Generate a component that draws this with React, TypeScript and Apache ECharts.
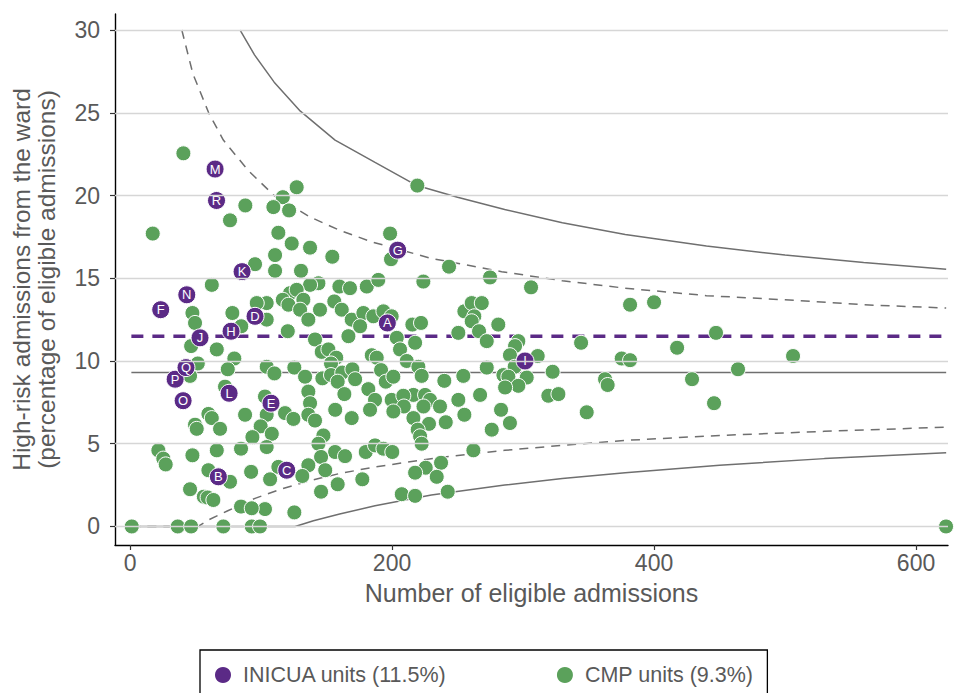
import React, { useEffect, useRef } from 'react';
import * as echarts from 'echarts';

// ---- Data ----
const inicuaUnits = ['A', 'B', 'C', 'D', 'E', 'F', 'G', 'H', 'I', 'J', 'K', 'L', 'M', 'N', 'O', 'P', 'Q', 'R'];
const inicuaN = [196.4, 67.4, 119.6, 95.4, 107.6, 23.4, 204.3, 77.1, 301.5, 53.4, 85.5, 75.6, 64.9, 43.3, 40.5, 34.4, 42.7, 66];
const inicuaPct = [12.3, 3.0, 3.4, 12.7, 7.45, 13.1, 16.7, 11.8, 10.0, 11.4, 15.4, 8.05, 21.6, 14.0, 7.6, 8.9, 9.6, 19.7];

const cmpN = [
  40.7, 88, 76.3, 17.3, 127.2, 116.6, 109.4, 121.4, 113.2, 123.4, 137.4, 154.4, 110.7, 95.4, 110.7, 130.5,
  219.3, 198.5, 199.2, 243.5, 274.8, 62.4, 47.6, 49.6, 78.1, 46.6, 66.2, 79.6, 51.7, 74.6, 45.8, 72.5, 84.9,
  143.8, 137.4, 159.8, 167.9, 180.7, 122.1, 127.2, 116.6, 120.9, 104.3, 96.7, 132.3, 129.8, 145, 155.9, 161.6,
  136.1, 169.2, 178.1, 175.6, 185.7, 104.3, 120.4, 141.2, 166.7, 146.3, 151.4, 157.4, 153.4, 184.5, 104.3,
  110.2, 125.4, 133.6, 146.8, 153.4, 162, 169.7, 158.5, 171.8, 136.1, 163.6, 181.9, 137.4, 103,
  189.5, 223.9, 193.4, 199.7, 215.5, 222.1, 255.2, 260.8, 268.5, 262.8, 260.8, 281.1, 250.6, 266.4, 272.3,
  203.6, 206.1, 217.6, 188.3, 211.2, 220.1, 191.6, 222.6, 195.2, 201, 239.9, 254.4, 272.3, 285, 267.2,
  250.6, 216.3, 199.7, 208.6, 225.2, 229, 187,
  306.1, 344.3, 296.4, 293.9, 311.2, 290, 293.6, 302.8, 288.8, 296.4, 322.6, 362.6, 364.6, 375.3, 319.3, 327, 286.3,
  59.8, 62.4, 49.6, 50.9, 68.7, 87.8, 84.7, 21.6, 25.4, 27.2, 47.6, 66.2, 59.8, 76.3, 45.8, 56.3, 59.2, 63.6,
  84.7, 1.3, 36.4, 46.6, 71.2,
  156.6, 118.3, 124.7, 136.1, 141.2, 169.2, 183.2, 104.3, 99.7, 108.2, 93.4, 104.3, 147.6, 143.8, 156.5,
  164.1, 145.8, 179.9, 136.1, 149, 131.5, 113.2, 106.9, 92.4, 158.5, 177.3, 145.8, 103, 92.9, 125.4, 92.9, 99.2,
  209, 201, 224, 236.6, 255.2, 283.2, 216.3, 228.2, 241, 219.6, 276.1, 221.4, 222.6, 187, 193.4, 200.2,
  262.1, 237.4, 225.7, 217.6, 234.1, 207.4, 217.6, 242.5,
  290, 348.6, 381.7, 400, 381.7, 417.6, 429, 445.8, 447.3, 464.1, 506.1, 622.9
];
const cmpPct = [
  22.55, 19.4, 18.5, 17.7, 20.5, 19.9, 19.3, 19.1, 17.75, 17.1, 16.85, 16.3, 16.4, 15.85, 15.45, 15.45,
  20.6, 17.7, 16.15, 15.7, 15.05, 14.6, 12.9, 12.3, 12.9, 10.9, 10.7, 10.15, 9.85, 9.5, 9.1, 8.45, 12.1,
  14.7, 14.6, 14.5, 14.4, 14.5, 14.1, 14.3, 13.7, 13.4, 13.5, 13.5, 13.7, 13.1, 13.1, 13.6, 13.1,
  12.5, 12.5, 12.9, 12.1, 12.7, 12.5, 11.8, 11.3, 11.5, 10.55, 10.7, 10.2, 9.85, 10.35, 9.65,
  9.25, 9.6, 9.05, 8.95, 9.15, 9.3, 9.5, 8.75, 8.9, 8.15, 8.0, 8.3, 7.45, 7.85,
  14.9, 14.8, 13.0, 12.7, 12.2, 12.3, 13.0, 13.5, 13.5, 12.7, 12.4, 12.2, 11.7, 11.8, 11.2,
  11.4, 10.7, 11.1, 10.2, 10.0, 9.65, 9.45, 9.1, 8.75, 9.05, 8.8, 9.1, 9.6, 9.15, 7.95,
  7.65, 7.95, 7.65, 7.9, 7.95, 7.65, 7.65,
  14.45, 11.1, 11.2, 10.9, 10.3, 10.35, 9.65, 9.0, 9.05, 8.5, 9.35, 8.9, 8.55, 10.15, 7.9, 8.0, 8.4,
  6.8, 6.55, 6.15, 5.9, 5.9, 6.75, 4.7, 4.6, 4.1, 3.75, 4.3, 4.6, 3.4, 2.7, 2.25, 1.8, 1.75, 1.6,
  1.2, 0, 0, 0, 0,
  7.05, 6.85, 6.5, 6.75, 6.4, 6.55, 7.05, 6.75, 6.05, 5.6, 5.4, 4.8, 5.5, 5.0, 4.5,
  4.25, 4.2, 4.5, 3.7, 3.4, 3.05, 3.6, 2.85, 3.3, 2.55, 2.85, 2.1, 1.05, 1.1, 0.85, 0, 0,
  7.25, 6.95, 7.25, 7.25, 6.75, 7.05, 6.55, 6.2, 6.3, 5.85, 5.85, 5.45, 5.0, 4.9, 4.7, 4.5,
  4.6, 3.85, 3.55, 3.25, 3.0, 1.95, 1.85, 2.1,
  6.25, 6.9, 13.4, 13.55, 10.05, 10.8, 8.9, 7.45, 11.7, 9.5, 10.3, 0
];

const inicuaMean = 11.5;
const cmpMean = 9.3;
const meanRangeN = [1, 623];

// Funnel limits
const upper998N = [84, 95, 110, 130, 156.5, 187, 219, 250, 286, 330, 378, 440, 500, 560, 623];
const upper998Pct = [30, 28.5, 26.85, 25.1, 23.35, 22.0, 20.6, 19.9, 19.15, 18.35, 17.65, 16.95, 16.4, 15.95, 15.55];
const upper95N = [39.5, 48, 60, 71.2, 90.3, 110, 137.4, 160, 184.5, 230, 283.7, 330, 377.9, 440, 500, 560, 623];
const upper95Pct = [30, 27.35, 25.0, 23.35, 21.5, 20.0, 18.7, 17.9, 17.2, 16.2, 15.4, 14.85, 14.4, 13.95, 13.7, 13.4, 13.2];
const lower95N = [1, 52, 60, 74.6, 95.4, 115, 138.7, 160, 187, 235, 286, 330, 378, 450, 530, 623];
const lower95Pct = [0, 0, 0.4, 0.95, 1.7, 2.25, 2.8, 3.2, 3.6, 4.15, 4.6, 4.9, 5.2, 5.5, 5.75, 6.0];
const lower998N = [1, 126, 140, 160, 187, 230, 286, 330, 378, 450, 530, 623];
const lower998Pct = [0, 0, 0.35, 0.75, 1.25, 1.9, 2.5, 2.9, 3.25, 3.7, 4.1, 4.45];

const xTicks = [0, 200, 400, 600];
const yTicks = [0, 5, 10, 15, 20, 25, 30];

const inicuaName = 'INICUA units (11.5%)';
const cmpName = 'CMP units (9.3%)';

const PURPLE = '#5b2a86';
const GREEN = '#5ba15b';
const LINE_GREY = '#6f6f6f';
const TEXT_GREY = '#595959';
const FONT = 'Liberation Sans, Arial, Helvetica, sans-serif';

const zip = (xs: number[], ys: number[]) => xs.map((x, i) => [x, ys[i]]);

export default function App() {
  const ref = useRef<HTMLDivElement>(null);
  useEffect(() => {
    if (!ref.current) return;
    const chart = echarts.init(ref.current, null, { renderer: 'svg' });
    const funnel = (name: string, xs: number[], ys: number[], dashed: boolean) => ({
      name,
      type: 'line',
      data: zip(xs, ys),
      showSymbol: false,
      symbol: 'none',
      smooth: false,
      silent: true,
      z: 2,
      lineStyle: { color: LINE_GREY, width: 1.5, type: dashed ? [9, 7] : 'solid' },
    });
    const yTitleStyle = {
      fontSize: 24.5,
      fontFamily: FONT,
      fill: TEXT_GREY,
      textAlign: 'center',
      textVerticalAlign: 'middle',
      align: 'center',
      verticalAlign: 'middle',
    };
    const option: any = {
      animation: false,
      backgroundColor: '#ffffff',
      textStyle: { fontFamily: FONT },
      grid: { left: 115, right: 6, top: 14, bottom: 148, containLabel: false },
      xAxis: {
        type: 'value',
        min: -11.5,
        max: 624.4,
        name: 'Number of eligible admissions',
        nameLocation: 'middle',
        nameGap: 35,
        nameTextStyle: { fontSize: 25, color: TEXT_GREY, fontFamily: FONT },
        axisLine: { show: true, onZero: false, lineStyle: { color: '#000', width: 1.4 } },
        axisTick: { show: true, length: 5, customValues: xTicks, lineStyle: { color: '#333', width: 1.2 } },
        axisLabel: { customValues: xTicks, fontSize: 23, color: TEXT_GREY, margin: 6, fontFamily: FONT },
        splitLine: { show: false },
      },
      yAxis: {
        type: 'value',
        min: -1.12,
        max: 30.97,
        axisLine: { show: true, onZero: false, lineStyle: { color: '#000', width: 1.4 } },
        axisTick: { show: true, length: 5, customValues: yTicks, lineStyle: { color: '#333', width: 1.2 } },
        axisLabel: { customValues: yTicks, fontSize: 23, color: TEXT_GREY, margin: 15, fontFamily: FONT },
        splitLine: { show: false },
      },
      legend: {
        left: 200,
        top: 650,
        orient: 'horizontal',
        data: [
          { name: inicuaName, icon: 'circle' },
          { name: cmpName, icon: 'circle' },
        ],
        itemWidth: 18,
        itemHeight: 18,
        itemGap: 108,
        padding: [14, 14, 14, 13],
        borderColor: '#000',
        borderWidth: 1.3,
        textStyle: { fontSize: 21.5, color: TEXT_GREY, fontFamily: FONT, padding: [0, 0, 0, 6] },
        selectedMode: false,
      },
      graphic: [
        {
          type: 'text',
          x: 21,
          y: 279.5,
          rotation: Math.PI / 2,
          style: { ...yTitleStyle, text: 'High-risk admissions from the ward' },
        },
        {
          type: 'text',
          x: 46,
          y: 279.5,
          rotation: Math.PI / 2,
          style: { ...yTitleStyle, text: '(percentage of eligible admissions)' },
        },
      ],
      series: [
        {
          name: 'gridlines',
          type: 'line',
          data: [],
          silent: true,
          z: 1,
          markLine: {
            silent: true,
            symbol: 'none',
            label: { show: false },
            lineStyle: { color: '#d6d6d6', width: 1.4, type: 'solid' },
            data: yTicks.map((v) => ({ yAxis: v })),
          },
        },
        funnel('upper998', upper998N, upper998Pct, false),
        funnel('upper95', upper95N, upper95Pct, true),
        funnel('lower95', lower95N, lower95Pct, true),
        funnel('lower998', lower998N, lower998Pct, false),
        {
          name: 'cmpMean',
          type: 'line',
          data: meanRangeN.map((n) => [n, cmpMean]),
          symbol: 'none',
          silent: true,
          z: 2,
          lineStyle: { color: LINE_GREY, width: 1.5 },
        },
        {
          name: 'inicuaMean',
          type: 'line',
          data: meanRangeN.map((n) => [n, inicuaMean]),
          symbol: 'none',
          silent: true,
          z: 2,
          lineStyle: { color: PURPLE, width: 3.5, type: [12, 9] },
        },
        {
          name: cmpName,
          type: 'scatter',
          data: zip(cmpN, cmpPct),
          symbol: 'circle',
          symbolSize: 15,
          z: 3,
          itemStyle: { color: GREEN, borderColor: '#ffffff', borderWidth: 1, opacity: 1 },
        },
        {
          name: inicuaName,
          type: 'scatter',
          data: inicuaUnits.map((u, i) => ({ name: u, value: [inicuaN[i], inicuaPct[i]] })),
          symbol: 'circle',
          symbolSize: 18,
          z: 4,
          itemStyle: { color: PURPLE, borderColor: '#ffffff', borderWidth: 1, opacity: 1 },
          label: {
            show: true,
            position: 'inside',
            formatter: (p: any) => p.name,
            color: '#ffffff',
            fontSize: 13,
            fontFamily: FONT,
          },
        },
      ],
    };
    chart.setOption(option);
    return () => chart.dispose();
  }, []);
  return <div ref={ref} style={{ position: 'fixed', left: 0, top: 0, width: 954, height: 693 }} />;
}
